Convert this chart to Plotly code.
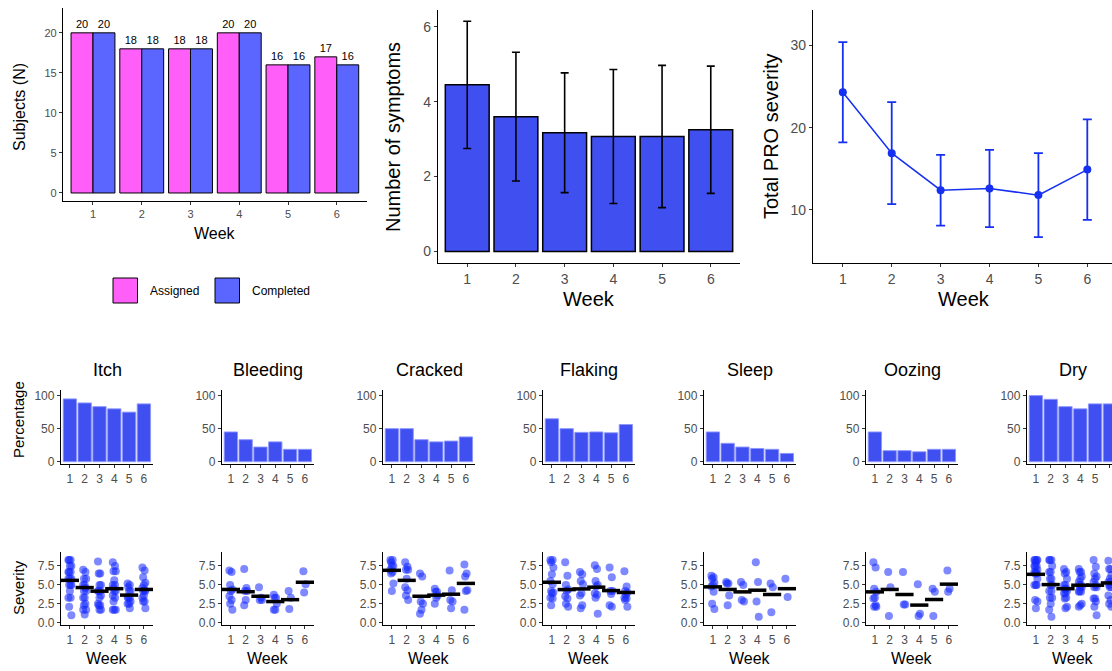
import plotly.graph_objects as go

# ---------------- data ----------------
weeks = [1, 2, 3, 4, 5, 6]
assigned = [20, 18, 18, 20, 16, 17]
completed = [20, 18, 18, 20, 16, 16]

symptom_mean = [4.45, 3.60, 3.17, 3.07, 3.07, 3.25]
symptom_sd = [1.70, 1.72, 1.60, 1.79, 1.90, 1.70]

pro_mean = [24.3, 16.9, 12.4, 12.6, 11.8, 14.9]
pro_sd = [6.1, 6.2, 4.3, 4.7, 5.1, 6.1]

symptoms = ["Itch", "Bleeding", "Cracked", "Flaking", "Sleep", "Oozing", "Dry"]

pct_itch = [95.0, 88.9, 83.3, 80.0, 75.0, 87.5]
pct_bleeding = [45.0, 33.3, 22.2, 30.0, 18.75, 18.75]
pct_cracked = [50.0, 50.0, 33.3, 30.0, 31.25, 37.5]
pct_flaking = [65.0, 50.0, 44.4, 45.0, 43.75, 56.25]
pct_sleep = [45.0, 27.8, 22.2, 20.0, 18.75, 12.5]
pct_oozing = [45.0, 16.7, 16.7, 15.0, 18.75, 18.75]
pct_dry = [100.0, 94.4, 83.3, 80.0, 87.5, 87.5]

mean_itch = [5.6, 4.65, 4.17, 4.5, 3.65, 4.4]
mean_bleeding = [4.4, 4.1, 3.5, 2.8, 3.05, 5.35]
mean_cracked = [6.93, 5.6, 3.5, 3.65, 3.77, 5.2]
mean_flaking = [5.35, 4.38, 4.47, 4.7, 4.25, 4.0]
mean_sleep = [4.74, 4.4, 4.08, 4.3, 3.73, 4.5]
mean_oozing = [4.08, 4.4, 3.73, 2.33, 3.07, 5.1]
mean_dry = [6.4, 5.04, 4.5, 4.96, 4.96, 5.26]

sev_itch = [
    [8.3, 8.3, 8.3, 7.5, 7.5, 6.7, 6.7, 6.7, 5.8, 5.8, 5.8, 5.0, 5.0, 5.0, 4.2, 3.3, 3.3, 2.1, 1.0],
    [7.0, 6.7, 5.8, 5.8, 5.0, 5.0, 4.6, 4.2, 4.2, 3.3, 3.3, 2.5, 2.3, 1.7, 1.1, 1.7],
    [8.1, 6.5, 6.5, 5.0, 5.0, 4.2, 4.2, 4.2, 3.6, 3.3, 2.5, 2.3, 2.3, 1.7, 1.7],
    [8.0, 7.5, 6.8, 6.8, 5.6, 5.0, 5.0, 4.6, 4.2, 4.2, 3.6, 3.3, 2.8, 1.7, 1.7, 1.7],
    [5.2, 5.0, 4.7, 4.2, 4.2, 3.4, 3.3, 3.3, 2.8, 2.5, 2.5, 1.9],
    [7.3, 6.9, 6.0, 5.3, 5.0, 4.6, 4.3, 4.2, 4.2, 3.6, 3.3, 2.8, 2.8, 1.9],
]
sev_bleeding = [
    [6.9, 6.7, 5.0, 4.4, 4.2, 3.5, 3.0, 2.5, 1.7],
    [7.1, 4.6, 4.2, 4.2, 3.0, 2.3],
    [4.7, 3.3, 3.0, 3.0],
    [3.7, 3.3, 3.3, 2.5, 1.7, 1.7],
    [4.2, 3.3, 1.8],
    [6.8, 5.1, 4.0],
]
sev_cracked = [
    [8.3, 8.3, 8.0, 7.5, 7.5, 7.0, 6.7, 6.5, 5.2, 4.2],
    [8.0, 7.4, 7.0, 7.0, 5.8, 4.7, 4.3, 3.6, 3.0],
    [6.5, 6.1, 2.8, 2.5, 1.7, 1.2],
    [4.5, 4.1, 4.1, 3.6, 3.3, 2.5],
    [6.9, 4.3, 3.0, 2.8, 1.9],
    [7.7, 6.5, 6.1, 4.3, 4.2, 1.7],
]
sev_flaking = [
    [8.3, 8.3, 8.0, 7.3, 6.4, 5.5, 5.1, 4.2, 4.0, 3.9, 3.3, 3.2, 2.3],
    [8.0, 6.2, 5.0, 4.4, 4.2, 3.5, 3.2, 2.5, 2.1],
    [6.7, 6.4, 5.5, 5.1, 3.9, 3.6, 2.3, 1.9],
    [7.6, 7.1, 5.5, 5.0, 4.8, 3.9, 3.7, 3.3, 1.2],
    [7.3, 6.0, 4.2, 4.2, 3.8, 2.3, 2.1],
    [6.8, 4.8, 4.2, 4.0, 3.7, 3.3, 3.2, 3.0, 2.1],
]
sev_sleep = [
    [6.2, 6.0, 5.8, 5.3, 5.0, 4.8, 4.1, 2.5, 1.8],
    [5.4, 5.2, 5.2, 3.6, 2.3],
    [5.4, 5.0, 3.0, 2.8],
    [8.0, 5.4, 2.8, 0.8],
    [5.2, 4.7, 1.4],
    [5.8, 3.4],
]
sev_oozing = [
    [8.0, 7.3, 4.5, 4.1, 3.3, 3.2, 2.3, 2.1, 2.1],
    [6.7, 4.7, 0.9],
    [6.7, 2.4, 2.4],
    [5.1, 1.2, 0.9],
    [4.5, 4.1, 0.9],
    [6.9, 4.5, 4.1],
]
sev_dry = [
    [8.3, 8.3, 8.3, 8.3, 8.0, 7.5, 7.5, 7.5, 7.0, 6.7, 6.7, 6.5, 6.5, 5.8, 5.0, 5.0, 5.0, 3.0, 2.8, 1.9],
    [8.3, 8.3, 8.3, 7.5, 6.7, 6.7, 5.8, 5.8, 5.0, 5.0, 4.2, 4.2, 3.3, 3.3, 2.5, 1.7, 0.8],
    [7.1, 6.7, 6.5, 5.8, 5.0, 5.0, 4.5, 4.5, 4.2, 3.9, 3.9, 3.3, 3.2, 2.1, 1.9],
    [7.1, 6.7, 6.7, 6.1, 5.8, 5.4, 5.0, 5.0, 4.7, 4.7, 4.1, 4.1, 4.2, 2.5, 2.3, 2.1],
    [8.3, 7.4, 6.5, 6.1, 5.8, 5.4, 5.0, 4.7, 4.7, 3.2, 3.2, 2.8, 2.1, 1.0],
    [8.2, 7.1, 7.1, 6.3, 5.8, 5.4, 5.4, 5.0, 4.7, 4.7, 3.6, 3.0, 2.5, 2.1],
]

pct_data = [pct_itch, pct_bleeding, pct_cracked, pct_flaking, pct_sleep, pct_oozing, pct_dry]
mean_data = [mean_itch, mean_bleeding, mean_cracked, mean_flaking, mean_sleep, mean_oozing, mean_dry]
sev_data = [sev_itch, sev_bleeding, sev_cracked, sev_flaking, sev_sleep, sev_oozing, sev_dry]

# ---------------- style ----------------
W, H = 1112, 671
FONT = "Liberation Sans, Arial, sans-serif"
PINK = "#FF5FF8"
BLUE_C = "#5A66FF"
BLUE_BAR = "#4050F0"
LINE_BLUE = "#1530F0"
DOT = "rgba(20,40,255,0.55)"
TICK_COL = "#4D4D4D"


def fx(px):
    return px / W


def fy(py):
    return 1 - py / H


def axis(dom, rng, tickvals, anchor, fs, ticktext=None, fmt=None):
    d = dict(domain=dom, range=rng, tickvals=tickvals, anchor=anchor,
             showline=True, linecolor="black", linewidth=1.3,
             ticks="outside", ticklen=3, tickwidth=1, tickcolor="#333333",
             tickfont=dict(size=fs, color=TICK_COL, family=FONT),
             showgrid=False, zeroline=False, automargin=False, fixedrange=True)
    if ticktext is not None:
        d["ticktext"] = ticktext
    if fmt is not None:
        d["tickformat"] = fmt
    return d


fig = go.Figure()
layout = {}
annotations = []
shapes = []

# ---------- panel 1: subjects ----------
fig.add_trace(go.Bar(x=weeks, y=assigned, name="Assigned", marker=dict(color=PINK, line=dict(color="black", width=1)),
                     text=[str(v) for v in assigned], textposition="outside", cliponaxis=False,
                     textfont=dict(size=11, color="black", family=FONT), xaxis="x", yaxis="y", offsetgroup="a"))
fig.add_trace(go.Bar(x=weeks, y=completed, name="Completed", marker=dict(color=BLUE_C, line=dict(color="black", width=1)),
                     text=[str(v) for v in completed], textposition="outside", cliponaxis=False,
                     textfont=dict(size=11, color="black", family=FONT), xaxis="x", yaxis="y", offsetgroup="b"))
layout["xaxis"] = axis([fx(63), fx(367)], [0.385, 6.62], weeks, "y", 11)
layout["yaxis"] = axis([fy(201), fy(8)], [-1.0, 23.1], [0, 5, 10, 15, 20], "x", 11)
annotations.append(dict(text="Week", x=fx(215), y=fy(233), xref="paper", yref="paper", showarrow=False,
                        font=dict(size=16, family=FONT, color="black"), xanchor="center", yanchor="middle"))
annotations.append(dict(text="Subjects (N)", x=fx(20), y=fy(107), xref="paper", yref="paper", showarrow=False,
                        textangle=-90, font=dict(size=16, family=FONT, color="black"), xanchor="center", yanchor="middle"))
# legend
for (x0, col, lab, tx) in [(113, PINK, "Assigned", 148), (215, BLUE_C, "Completed", 250)]:
    shapes.append(dict(type="rect", xref="paper", yref="paper", x0=fx(x0), x1=fx(x0 + 24.5), y0=fy(303), y1=fy(278),
                       fillcolor=col, line=dict(color="black", width=1)))
    annotations.append(dict(text=lab, x=fx(tx), y=fy(291), xref="paper", yref="paper", showarrow=False,
                            font=dict(size=12, family=FONT, color="black"), xanchor="left", yanchor="middle"))

# ---------- panel 2: number of symptoms ----------
fig.add_trace(go.Bar(x=weeks, y=symptom_mean, width=0.9, marker=dict(color=BLUE_BAR, line=dict(color="black", width=1.5)),
                     error_y=dict(type="data", array=symptom_sd, color="black", thickness=1.6, width=4),
                     xaxis="x2", yaxis="y2"))
layout["xaxis2"] = axis([fx(438), fx(740)], [0.4, 6.6], weeks, "y2", 14)
layout["yaxis2"] = axis([fy(263), fy(10)], [-0.31, 6.45], [0, 2, 4, 6], "x2", 14)
annotations.append(dict(text="Week", x=fx(589), y=fy(299), xref="paper", yref="paper", showarrow=False,
                        font=dict(size=20, family=FONT, color="black"), xanchor="center", yanchor="middle"))
annotations.append(dict(text="Number of symptoms", x=fx(393), y=fy(137), xref="paper", yref="paper", showarrow=False,
                        textangle=-90, font=dict(size=20, family=FONT, color="black"), xanchor="center", yanchor="middle"))

# ---------- panel 3: total PRO severity ----------
fig.add_trace(go.Scatter(x=weeks, y=pro_mean, mode="lines+markers", line=dict(color=LINE_BLUE, width=1.5),
                         marker=dict(color=LINE_BLUE, size=8),
                         error_y=dict(type="data", array=pro_sd, color=LINE_BLUE, thickness=1.8, width=4.5),
                         xaxis="x3", yaxis="y3"))
layout["xaxis3"] = axis([fx(813), 1.0], [0.39, 6.505], weeks, "y3", 14)
layout["yaxis3"] = axis([fy(263), fy(10)], [3.55, 34.3], [10, 20, 30], "x3", 14)
annotations.append(dict(text="Week", x=fx(964), y=fy(299), xref="paper", yref="paper", showarrow=False,
                        font=dict(size=20, family=FONT, color="black"), xanchor="center", yanchor="middle"))
annotations.append(dict(text="Total PRO severity", x=fx(771), y=fy(136), xref="paper", yref="paper", showarrow=False,
                        textangle=-90, font=dict(size=20, family=FONT, color="black"), xanchor="center", yanchor="middle"))

# ---------- bottom rows ----------
lefts = [61, 222, 383, 543, 704, 866, 1027]
PW = 92
SPACING = 14.8
n = 4
for i, name in enumerate(symptoms):
    L = lefts[i]
    R = min(L + PW, W)
    xr_end = 0.4 + (R - L) / SPACING
    # percentage
    xa, ya = f"x{n}", f"y{n}"
    fig.add_trace(go.Bar(x=weeks, y=pct_data[i], width=0.9,
                         marker=dict(color=BLUE_BAR, line=dict(color="rgba(140,150,255,0.9)", width=1)),
                         xaxis=xa, yaxis=ya))
    layout[f"xaxis{n}"] = axis([fx(L), fx(R)], [0.4, xr_end], weeks, ya, 12)
    layout[f"yaxis{n}"] = axis([fy(464), fy(390)], [-3.5, 108.5], [0, 50, 100], xa, 12)
    annotations.append(dict(text=name, x=fx(L + PW / 2), y=fy(370), xref="paper", yref="paper", showarrow=False,
                            font=dict(size=18, family=FONT, color="black"), xanchor="center", yanchor="middle"))
    n += 1
    # severity
    xa, ya = f"x{n}", f"y{n}"
    xs, ys = [], []
    for w, vals in zip(weeks, sev_data[i]):
        for k, v in enumerate(vals):
            xs.append(w + ((k * 3) % 5 - 2) * 0.05)
            ys.append(v)
    fig.add_trace(go.Scatter(x=xs, y=ys, mode="markers", marker=dict(color=DOT, size=8, line=dict(width=0)),
                             xaxis=xa, yaxis=ya))
    fig.add_trace(go.Scatter(x=weeks, y=mean_data[i], mode="markers",
                             marker=dict(symbol="line-ew", size=13, line=dict(color="black", width=3.5)),
                             xaxis=xa, yaxis=ya))
    layout[f"xaxis{n}"] = axis([fx(L), fx(R)], [0.4, xr_end], weeks, ya, 12)
    layout[f"yaxis{n}"] = axis([fy(625), fy(552)], [-0.3, 9.35], [0, 2.5, 5, 7.5], xa, 12, fmt=".1f")
    annotations.append(dict(text="Week", x=fx(L + PW / 2), y=fy(658), xref="paper", yref="paper", showarrow=False,
                            font=dict(size=16, family=FONT, color="black"), xanchor="center", yanchor="middle"))
    n += 1

annotations.append(dict(text="Percentage", x=fx(18), y=fy(420), xref="paper", yref="paper", showarrow=False,
                        textangle=-90, font=dict(size=15, family=FONT, color="black"), xanchor="center", yanchor="middle"))
annotations.append(dict(text="Severity", x=fx(18), y=fy(588), xref="paper", yref="paper", showarrow=False,
                        textangle=-90, font=dict(size=15, family=FONT, color="black"), xanchor="center", yanchor="middle"))

fig.update_layout(**layout)
fig.update_layout(width=W, height=H, margin=dict(l=0, r=0, t=0, b=0), showlegend=False,
                  paper_bgcolor="white", plot_bgcolor="white", barmode="group", bargap=0.1, bargroupgap=0,
                  annotations=annotations, shapes=shapes, font=dict(family=FONT))
fig.write_html("out.html", config={"displayModeBar": False},
               post_script="document.body.style.margin='0';document.body.style.overflow='hidden';")
